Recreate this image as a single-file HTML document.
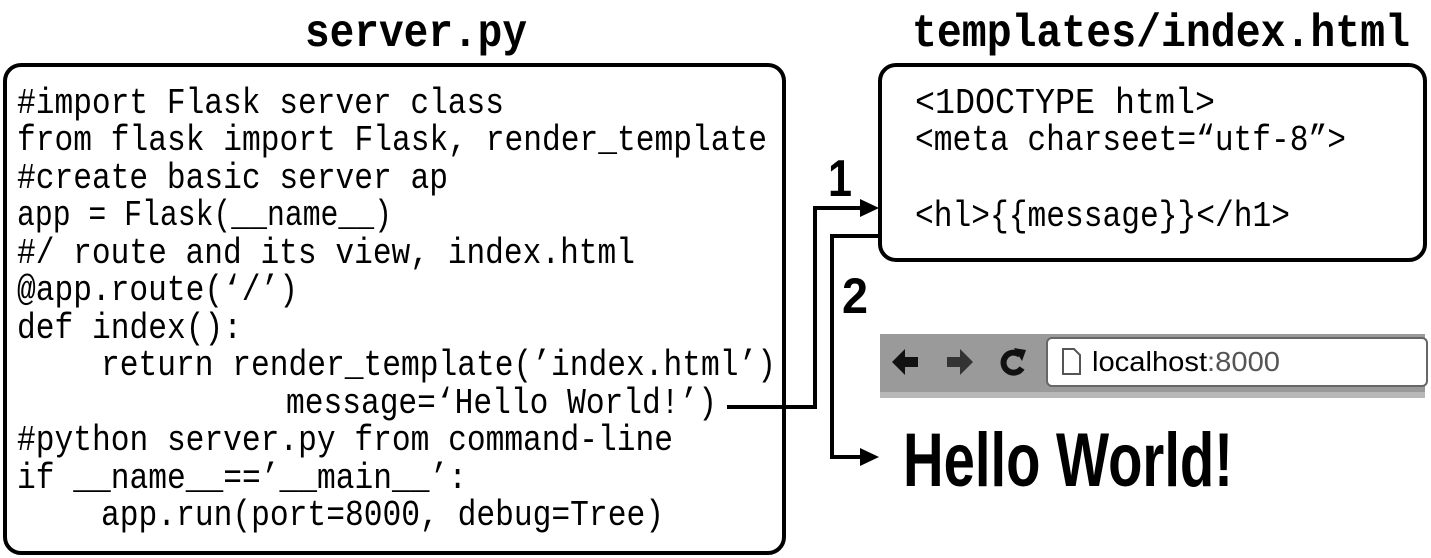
<!DOCTYPE html>
<html><head><meta charset="utf-8"><style>
html,body{margin:0;padding:0;background:#fff;}
svg{display:block}
.c{font-family:"Liberation Mono","DejaVu Sans Mono",monospace;font-size:36px;fill:#000}
.t{font-family:"Liberation Mono","DejaVu Sans Mono",monospace;font-size:46px;font-weight:bold;fill:#000}
</style></head><body>
<svg width="1431" height="558" viewBox="0 0 1431 558" xmlns="http://www.w3.org/2000/svg">
<text class="t" x="305" y="46" textLength="222" lengthAdjust="spacingAndGlyphs">server.py</text>
<text class="t" x="912" y="46" textLength="498" lengthAdjust="spacingAndGlyphs">templates/index.html</text>
<rect x="5" y="65" width="779" height="488" rx="16" fill="none" stroke="#000" stroke-width="4"/>
<rect x="880" y="65" width="545" height="195" rx="16" fill="none" stroke="#000" stroke-width="4"/>
<g class="c">
<text x="17" y="113" textLength="487" lengthAdjust="spacingAndGlyphs">#import Flask server class</text>
<text x="17" y="150" textLength="750" lengthAdjust="spacingAndGlyphs">from flask import Flask, render_template</text>
<text x="17" y="188" textLength="431" lengthAdjust="spacingAndGlyphs">#create basic server ap</text>
<text x="17" y="225" textLength="375" lengthAdjust="spacingAndGlyphs">app = Flask(__name__)</text>
<text x="17" y="263" textLength="618" lengthAdjust="spacingAndGlyphs">#/ route and its view, index.html</text>
<text x="17" y="300" textLength="281" lengthAdjust="spacingAndGlyphs">@app.route(‘/’)</text>
<text x="17" y="338" textLength="225" lengthAdjust="spacingAndGlyphs">def index():</text>
<text x="101" y="375" textLength="675" lengthAdjust="spacingAndGlyphs">return render_template(’index.html’)</text>
<text x="286" y="413" textLength="431" lengthAdjust="spacingAndGlyphs">message=‘Hello World!’)</text>
<text x="17" y="450" textLength="656" lengthAdjust="spacingAndGlyphs">#python server.py from command-line</text>
<text x="17" y="488" textLength="450" lengthAdjust="spacingAndGlyphs">if __name__==’__main__’:</text>
<text x="101" y="525" textLength="563" lengthAdjust="spacingAndGlyphs">app.run(port=8000, debug=Tree)</text>
<text x="915" y="113" textLength="300" lengthAdjust="spacingAndGlyphs">&lt;1DOCTYPE html&gt;</text>
<text x="915" y="150" textLength="431" lengthAdjust="spacingAndGlyphs">&lt;meta charseet=“utf-8”&gt;</text>
<text x="915" y="226" textLength="375" lengthAdjust="spacingAndGlyphs">&lt;hl&gt;{{message}}&lt;/h1&gt;</text>
</g>
<text x="828" y="196" font-family="Liberation Sans Narrow,Liberation Sans,sans-serif" font-size="52" font-weight="bold" textLength="24" lengthAdjust="spacingAndGlyphs">1</text>
<text x="842" y="313" font-family="Liberation Sans Narrow,Liberation Sans,sans-serif" font-size="50" font-weight="bold" textLength="26" lengthAdjust="spacingAndGlyphs">2</text>
<polyline points="727,407 815,407 815,208 862,208" fill="none" stroke="#000" stroke-width="4"/>
<polygon points="860,199 879,208 860,217" fill="#000"/>
<polyline points="880,236 832,236 832,457 862,457" fill="none" stroke="#000" stroke-width="4"/>
<polygon points="860,448 879,457 860,466" fill="#000"/>
<rect x="880" y="334" width="545" height="64" fill="#9a9a9a"/>
<rect x="880" y="392" width="545" height="6" fill="#b8b8b8"/>
<rect x="1047" y="338" width="380" height="48" rx="5" fill="#fff" stroke="#666" stroke-width="2"/>
<polygon points="892,362 905,349 905,357 918,357 918,367 905,367 905,375" fill="#111"/>
<polygon points="973,362 960,349 960,357 947,357 947,367 960,367 960,375" fill="#333"/>
<path d="M1020,355 A10,10 0 1 0 1022,368" fill="none" stroke="#111" stroke-width="6"/>
<polygon points="1014,348 1026,350 1022,361" fill="#111"/>
<path d="M1063,349 h11 l6,6 v19 h-17 z" fill="#fff" stroke="#555" stroke-width="2"/>
<text x="1092" y="371" font-family="Liberation Sans Narrow,Liberation Sans,sans-serif" font-size="28" textLength="188" lengthAdjust="spacingAndGlyphs"><tspan fill="#000">localhost</tspan><tspan fill="#555">:8000</tspan></text>
<text x="903" y="486" font-family="Liberation Sans Narrow,Liberation Sans,sans-serif" font-size="76" font-weight="bold" textLength="330" lengthAdjust="spacingAndGlyphs">Hello World!</text>
</svg>
</body></html>
